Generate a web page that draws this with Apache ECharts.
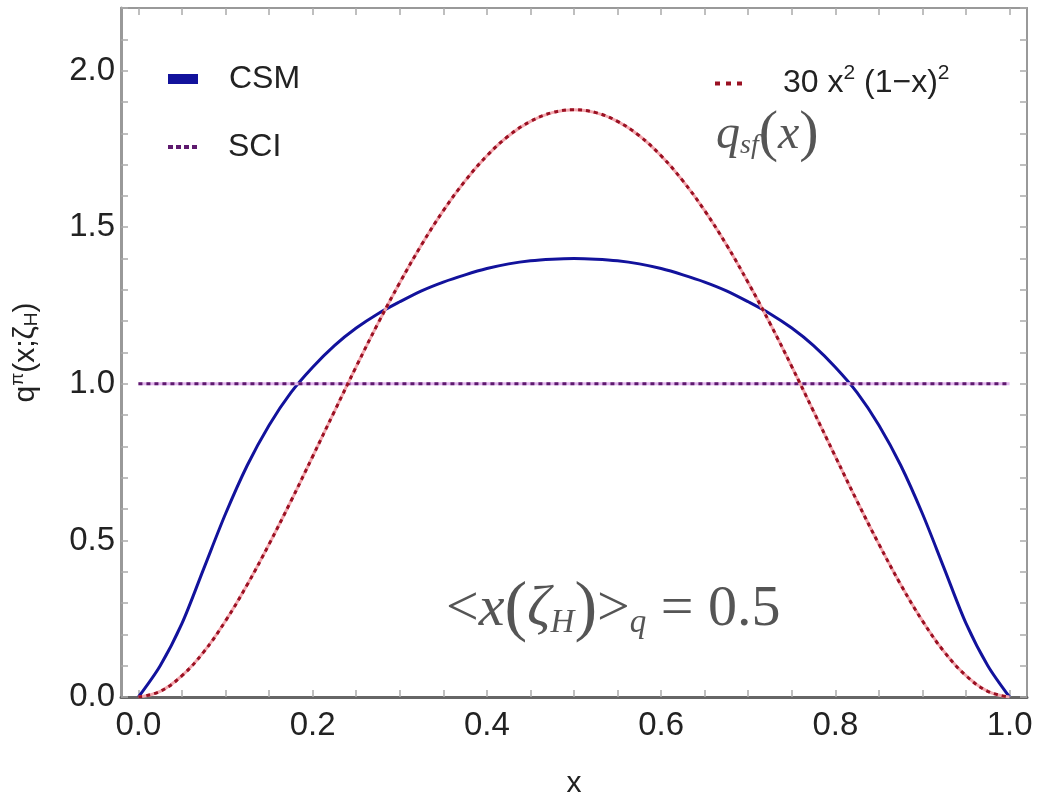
<!DOCTYPE html>
<html lang="en">
<head>
	<meta charset="UTF-8">
	<title>pion valence distribution</title>
	<style type="text/css">
	body,html{
		width: 100%;
		height: 100%;
		margin: 0;
		padding: 0;
		background: #fff;
	}
	#main{
		width: 1043px;
		height: 805px;
	}
	</style>
</head>
<body>
<div id="main"></div>
<script type="text/javascript" src="https://cdn.jsdelivr.net/npm/echarts@6/dist/echarts.min.js"></script>
<script type="text/javascript">
	// x grid for the curves
	var xVals = [0, 0.025, 0.05, 0.075, 0.1, 0.125, 0.15, 0.175, 0.2, 0.225, 0.25, 0.275, 0.3, 0.325, 0.35, 0.375, 0.4, 0.425, 0.45, 0.475,
		0.5, 0.525, 0.55, 0.575, 0.6, 0.625, 0.65, 0.675, 0.7, 0.725, 0.75, 0.775, 0.8, 0.825, 0.85, 0.875, 0.9, 0.925, 0.95, 0.975, 1];
	// CSM curve
	var csmVals = [0, 0.1, 0.235, 0.41, 0.585, 0.74, 0.868, 0.972, 1.053, 1.122, 1.178, 1.224, 1.262, 1.297, 1.325, 1.348, 1.368, 1.383, 1.393, 1.398,
		1.40, 1.398, 1.393, 1.383, 1.368, 1.348, 1.325, 1.297, 1.262, 1.224, 1.178, 1.122, 1.053, 0.972, 0.868, 0.74, 0.585, 0.41, 0.235, 0.1, 0];
	// red dotted curve (scale-free)
	var sfVals = [0, 0.018, 0.068, 0.144, 0.243, 0.359, 0.488, 0.625, 0.768, 0.912, 1.055, 1.193, 1.323, 1.444, 1.553, 1.648, 1.728, 1.792, 1.838, 1.866,
		1.875, 1.866, 1.838, 1.792, 1.728, 1.648, 1.553, 1.444, 1.323, 1.193, 1.055, 0.912, 0.768, 0.625, 0.488, 0.359, 0.243, 0.144, 0.068, 0.018, 0];
	// SCI is flat
	var sciX = [0, 1];
	var sciVals = [1, 1];
	// tick labels
	var xTickLabels = [0, 0.2, 0.4, 0.6, 0.8, 1.0];
	var yTickLabels = [0, 0.5, 1.0, 1.5, 2.0];

	var xTicks = [], yTicks = [];
	for (var i = 0; i <= 20; i++) { xTicks.push(+(i * 0.05).toFixed(2)); }
	for (var j = 0; j <= 22; j++) { yTicks.push(+(j * 0.1).toFixed(1)); }

	function pairs(xs, ys) {
		return xs.map(function (x, k) { return [x, ys[k]]; });
	}

	var sans = "'Liberation Sans', Arial, sans-serif";
	var serif = "'Liberation Serif', 'DejaVu Serif', serif";
	var csmColor = '#12129c';
	var sciColor = '#5e1a6e';
	var sfColor = '#9a1022';
	// dotted legend marks
	var dots4 = 'path://M0,0h5v4h-5zM8,0h5v4h-5zM16,0h5v4h-5zM24,0h5v4h-5z';
	var dots3 = 'path://M0,0h5v4h-5zM11,0h5v4h-5zM22,0h5v4h-5z';

	var frameX = function (pos, lineColor, lineWidth, showLabel) {
		return {
			type: 'value',
			position: pos,
			min: -0.02,
			max: 1.02,
			splitLine: { show: false },
			axisLine: { show: true, onZero: false, lineStyle: { color: lineColor, width: lineWidth } },
			axisTick: { show: true, inside: true, length: 7, customValues: xTicks, lineStyle: { color: '#aaa', width: 1.5 } },
			axisLabel: {
				show: showLabel,
				customValues: xTickLabels,
				formatter: function (v) { return v.toFixed(1); },
				fontFamily: sans,
				fontSize: 33,
				color: '#222',
				margin: 12
			}
		};
	};
	var frameY = function (pos, showLabel) {
		return {
			type: 'value',
			position: pos,
			min: 0,
			max: 2.2,
			splitLine: { show: false },
			axisLine: { show: true, onZero: false, lineStyle: { color: '#999', width: pos == 'left' ? 3 : 2 } },
			axisTick: { show: true, inside: true, length: 7, customValues: yTicks, lineStyle: { color: '#aaa', width: 1.5 } },
			axisLabel: {
				show: showLabel,
				customValues: yTickLabels,
				formatter: function (v) { return v.toFixed(1); },
				fontFamily: sans,
				fontSize: 33,
				color: '#222',
				margin: 6
			}
		};
	};

	var xBottom = frameX('bottom', '#666', 3, true);
	xBottom.name = 'x';
	xBottom.nameLocation = 'middle';
	xBottom.nameGap = 72;
	xBottom.nameTextStyle = { fontFamily: sans, fontSize: 30, color: '#222' };

	var yLeft = frameY('left', true);
	yLeft.name = '{a|q}{b|π}{a|(x;ζ}{c|H}{a|)}';
	yLeft.nameLocation = 'middle';
	yLeft.nameRotate = 90;
	yLeft.nameGap = 78;
	yLeft.nameTextStyle = {
		fontFamily: sans,
		fontSize: 30,
		color: '#222',
		rich: {
			a: { fontFamily: sans, fontSize: 30, color: '#222' },
			b: { fontFamily: sans, fontSize: 19, color: '#222', padding: [0, 0, 16, 0] },
			c: { fontFamily: sans, fontSize: 19, color: '#222', padding: [12, 0, 0, 0] }
		}
	};

	var legendText = { fontFamily: sans, fontSize: 32, color: '#222', padding: [0, 0, 0, 26] };

	var option = {
		backgroundColor: '#fff',
		animation: false,
		grid: { left: 116, right: 16, top: 8, bottom: 108, containLabel: false },
		xAxis: [xBottom, frameX('top', '#999', 2, false)],
		yAxis: [yLeft, frameY('right', false)],
		legend: [{
			left: 163,
			top: 58,
			itemWidth: 30,
			itemHeight: 10,
			selectedMode: false,
			textStyle: legendText,
			data: [{ name: 'CSM', icon: 'rect', itemStyle: { color: csmColor } }]
		}, {
			left: 163,
			top: 126,
			itemWidth: 29,
			itemHeight: 4,
			selectedMode: false,
			textStyle: legendText,
			data: [{ name: 'SCI', icon: dots4, itemStyle: { color: sciColor } }]
		}, {
			left: 710,
			top: 58,
			itemWidth: 27,
			itemHeight: 4,
			selectedMode: false,
			formatter: function () { return '{n|30 x}{s|2}{n| (1\u2212x)}{s|2}'; },
			textStyle: {
				padding: [0, 0, 0, 36],
				rich: {
					n: { fontFamily: sans, fontSize: 32, color: '#222' },
					s: { fontFamily: sans, fontSize: 21, color: '#222', padding: [0, 0, 20, 0] }
				}
			},
			data: [{ name: '30x2(1-x)2', icon: dots3, itemStyle: { color: sfColor } }]
		}],
		graphic: [{
			type: 'text',
			left: 446,
			top: 576,
			style: {
				text: '{n|<}{i|x}{p|(}{i|\u03b6}{sub|H}{p|)}{n|>}{sub|q}{n| = 0.5}',
				fill: '#555',
				rich: {
					n: { fontFamily: serif, fontSize: 58, fill: '#555' },
					i: { fontFamily: serif, fontStyle: 'italic', fontSize: 58, fill: '#555' },
					p: { fontFamily: serif, fontSize: 68, fill: '#555' },
					sub: { fontFamily: serif, fontStyle: 'italic', fontSize: 33, fill: '#555', padding: [26, 0, 0, 0] }
				}
			}
		}, {
			type: 'text',
			left: 716,
			top: 106,
			style: {
				text: '{i|q}{sub|sf}{p|(}{i|x}{p|)}',
				fill: '#555',
				rich: {
					i: { fontFamily: serif, fontStyle: 'italic', fontSize: 48, fill: '#555' },
					p: { fontFamily: serif, fontSize: 58, fill: '#555' },
					sub: { fontFamily: serif, fontStyle: 'italic', fontSize: 28, fill: '#555', padding: [22, 0, 0, 0] }
				}
			}
		}],
		series: [{
			name: 'CSM',
			type: 'line',
			symbol: 'none',
			smooth: 0.3,
			data: pairs(xVals, csmVals),
			lineStyle: { color: csmColor, width: 3 },
			itemStyle: { color: csmColor },
			z: 3
		}, {
			name: 'SCI halo',
			type: 'line',
			symbol: 'none',
			data: pairs(sciX, sciVals),
			lineStyle: { color: '#e2b6ee', width: 3 },
			z: 4
		}, {
			name: 'SCI',
			type: 'line',
			symbol: 'none',
			data: pairs(sciX, sciVals),
			lineStyle: { color: sciColor, width: 3, type: [4, 4] },
			itemStyle: { color: sciColor },
			z: 5
		}, {
			name: 'SF halo',
			type: 'line',
			symbol: 'none',
			smooth: 0.4,
			data: pairs(xVals, sfVals),
			lineStyle: { color: '#f3a7ae', width: 3 },
			z: 6
		}, {
			name: '30x2(1-x)2',
			type: 'line',
			symbol: 'none',
			smooth: 0.4,
			data: pairs(xVals, sfVals),
			lineStyle: { color: sfColor, width: 3, type: [4, 4] },
			itemStyle: { color: sfColor },
			z: 7
		}]
	};

	var chart = echarts.init(document.getElementById('main'));
	chart.setOption(option, true);
	window.addEventListener('resize', function () {
		chart.resize();
	});
</script>
</body>
</html>
